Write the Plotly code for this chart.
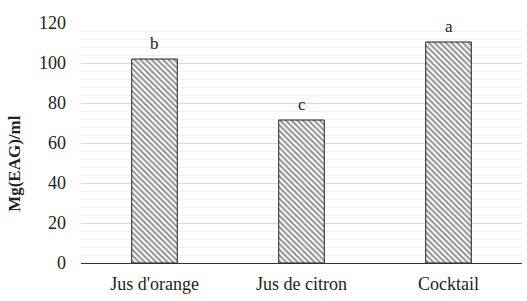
import plotly.graph_objects as go

categories = ["Jus d'orange", "Jus de citron", "Cocktail"]
values = [102, 71.5, 110.5]
letters = ["b", "c", "a"]

FONT = "Liberation Serif"

fig = go.Figure()
fig.add_trace(go.Bar(
    x=categories, y=values, width=0.31,
    marker=dict(color="white", line=dict(color="#222", width=1),
                pattern=dict(shape="\\", fgcolor="#222", bgcolor="white", size=4, solidity=0.5)),
    showlegend=False,
))
for c, v, l in zip(categories, values, letters):
    fig.add_annotation(x=c, y=v, text=l, showarrow=False, yanchor="bottom", yshift=4,
                       font=dict(family=FONT, size=17, color="#222"))

fig.add_annotation(xref="paper", yref="paper", x=-0.15, y=0.4167, text="<b>Mg(EAG)/ml</b>",
                   textangle=-90, showarrow=False, xanchor="center", yanchor="middle",
                   font=dict(family=FONT, size=17, color="#222"))

fig.update_layout(
    width=527, height=301, margin=dict(l=81, r=5, t=23, b=38),
    plot_bgcolor="white", paper_bgcolor="white",
    font=dict(family=FONT, size=18, color="#222"),
)
fig.update_yaxes(range=[0, 120], dtick=20, showgrid=True, gridcolor="#d9d9d9", gridwidth=1,
                 minor=dict(dtick=4, showgrid=True, gridcolor="#efefef", gridwidth=1),
                 zeroline=False, showline=False, ticks="", ticklabelstandoff=14)
fig.update_xaxes(showline=True, linecolor="#333", linewidth=1, ticks="", showgrid=False,
                 ticklabelstandoff=4)

fig.write_html("out.html")
